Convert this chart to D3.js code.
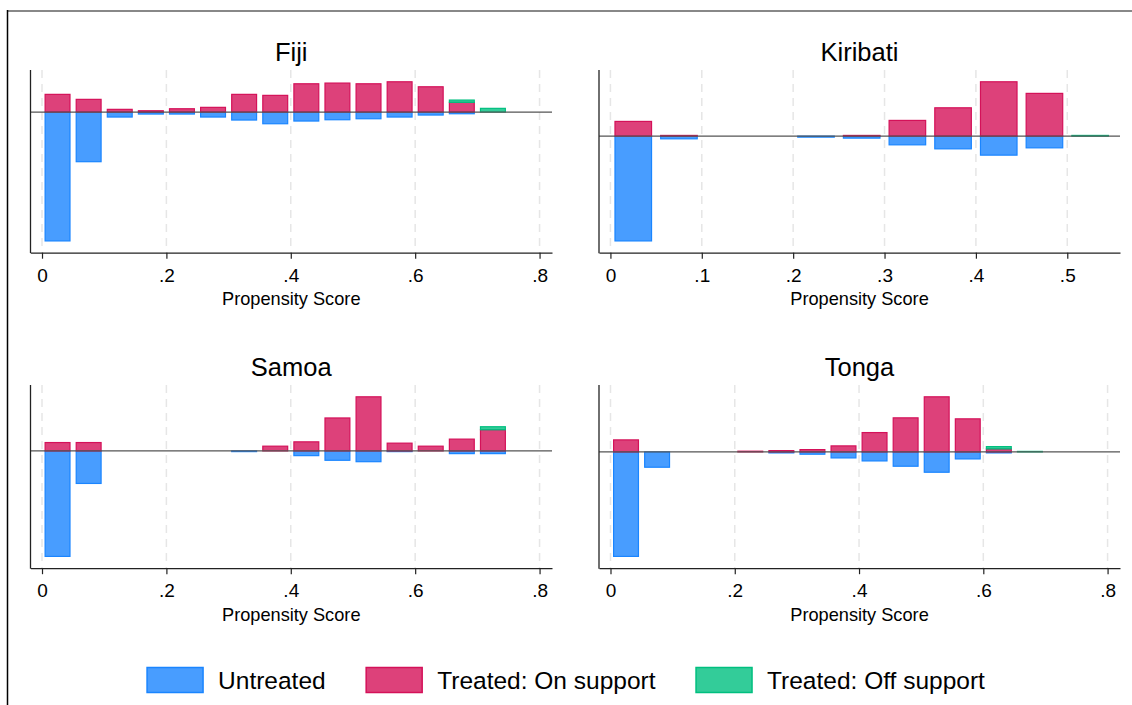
<!DOCTYPE html>
<html>
<head>
<meta charset="utf-8">
<script src="https://cdn.jsdelivr.net/npm/d3@7"></script>
<style>
  html, body { margin: 0; padding: 0; background: #fff; }
  svg { display: block; font-family: "Liberation Sans", Arial, sans-serif; }
</style>
</head>
<body>
<svg id="chart" width="1132" height="705"></svg>
<script>
// ---- Data (bin index k -> propensity-score bin [0.005+0.05k, 0.045+0.05k]) ----
const binStart = 0.005;
const binStep = 0.05;
const binWidth = 0.04;

const seriesNames = ["Untreated", "Treated: On support", "Treated: Off support"];
const panelNames = ["Fiji", "Kiribati", "Samoa", "Tonga"];

// Relative densities (untreated drawn below zero)
const fijiUntreated  = [129, 49.7, 5, 2, 2, 5, 8, 11.7, 9, 7.7, 6.7, 5, 3, 1.7, 0];
const fijiOnSupport  = [17.7, 12.7, 2.7, 1.3, 3.3, 4.7, 17.7, 16.7, 28.3, 29, 28.3, 30.3, 25.3, 9.7, 0];
const fijiOffSupport = [0, 0, 0, 0, 0, 0, 0, 0, 0, 0, 0, 0, 0, 2.3, 3.7];

const kiribatiUntreated  = [104.7, 2.7, 0, 0, 1, 2, 8.7, 12.7, 19, 11.7, 0];
const kiribatiOnSupport  = [14.7, 0.7, 0, 0, 0, 0.7, 15.7, 28.3, 54.3, 42.7, 0];
const kiribatiOffSupport = [0, 0, 0, 0, 0, 0, 0, 0, 0, 0, 0.7];

const samoaUntreated  = [104.7, 32.3, 0, 0, 0, 0, 0.7, 0, 4.7, 9.3, 10.7, 0.7, 0, 2.7, 2.7];
const samoaOnSupport  = [8.3, 8.3, 0, 0, 0, 0, 0, 4.7, 9, 32.7, 53.7, 7.7, 4.7, 11.7, 21];
const samoaOffSupport = [0, 0, 0, 0, 0, 0, 0, 0, 0, 0, 0, 0, 0, 0, 3];

const tongaUntreated  = [104.3, 15.3, 0, 0, 0, 1, 2.3, 6, 9, 14.3, 20.3, 7, 1, 0];
const tongaOnSupport  = [12, 0, 0, 0, 0.7, 1.3, 2.3, 6, 19.3, 34, 55, 33, 3, 0];
const tongaOffSupport = [0, 0, 0, 0, 0, 0, 0, 0, 0, 0, 0, 0, 2.3, 0.5];

const wideTicks = [0, 0.2, 0.4, 0.6, 0.8];
const kiribatiTicks = [0, 0.1, 0.2, 0.3, 0.4, 0.5];
const wideDomain = [-0.0185, 0.82];
const kiribatiDomain = [-0.0125, 0.5577];

const xAxisTitle = "Propensity Score";

// ---- Styles ----
const colors = {
  untreated: "#1a85ff",
  on: "#d41159",
  off: "#00bf7f"
};
const fillOpacity = 0.8;

const panels = [
  { name: panelNames[0], u: fijiUntreated, on: fijiOnSupport, off: fijiOffSupport, ticks: wideTicks, domain: wideDomain, col: 0, row: 0 },
  { name: panelNames[1], u: kiribatiUntreated, on: kiribatiOnSupport, off: kiribatiOffSupport, ticks: kiribatiTicks, domain: kiribatiDomain, col: 1, row: 0 },
  { name: panelNames[2], u: samoaUntreated, on: samoaOnSupport, off: samoaOffSupport, ticks: wideTicks, domain: wideDomain, col: 0, row: 1 },
  { name: panelNames[3], u: tongaUntreated, on: tongaOnSupport, off: tongaOffSupport, ticks: wideTicks, domain: wideDomain, col: 1, row: 1 }
];

const colRanges = [[30.5, 552], [599, 1120]];
const rowRanges = [[70, 252.7], [385, 568.2]];

const svg = d3.select("#chart");

// outer frame fragments
svg.append("line").attr("x1", 7).attr("x2", 1132).attr("y1", 11).attr("y2", 11)
  .attr("stroke", "#888").attr("stroke-width", 2);
svg.append("line").attr("x1", 7.5).attr("x2", 7.5).attr("y1", 10).attr("y2", 705)
  .attr("stroke", "#000").attr("stroke-width", 1.5);

const fmt = d => d === 0 ? "0" : d3.format(".1f")(d).replace(/^0/, "");

panels.forEach(p => {
  const [x0, x1] = colRanges[p.col];
  const [yTop, yBot] = rowRanges[p.row];
  const x = d3.scaleLinear().domain(p.domain).range([x0, x1]);

  const maxUp = d3.max(p.on.map((v, i) => v + (p.off[i] || 0)));
  const minDown = -d3.max(p.u);
  const pad = 0.074 * (maxUp - minDown);
  const y = d3.scaleLinear().domain([minDown - pad, maxUp + pad]).range([yBot, yTop]);

  const g = svg.append("g");

  // gridlines
  g.selectAll(".grid").data(p.ticks).enter().append("line")
    .attr("x1", d => x(d)).attr("x2", d => x(d))
    .attr("y1", yTop).attr("y2", yBot)
    .attr("stroke", "#e6e6e6").attr("stroke-width", 1.5)
    .attr("stroke-dasharray", "8,6");

  const bins = d3.range(p.on.length).map(k => ({
    k,
    left: binStart + binStep * k,
    u: p.u[k] || 0,
    on: p.on[k] || 0,
    off: p.off[k] || 0
  }));
  const bw = x(binWidth) - x(0);

  // untreated (below zero)
  g.selectAll(".u").data(bins.filter(b => b.u > 0)).enter().append("rect")
    .attr("x", b => x(b.left)).attr("width", bw)
    .attr("y", y(0)).attr("height", b => y(-b.u) - y(0))
    .attr("fill", colors.untreated).attr("fill-opacity", fillOpacity)
    .attr("stroke", colors.untreated).attr("stroke-width", 1.2);

  // treated on support
  g.selectAll(".on").data(bins.filter(b => b.on > 0)).enter().append("rect")
    .attr("x", b => x(b.left)).attr("width", bw)
    .attr("y", b => y(b.on)).attr("height", b => y(0) - y(b.on))
    .attr("fill", colors.on).attr("fill-opacity", fillOpacity)
    .attr("stroke", colors.on).attr("stroke-width", 1.2);

  // treated off support (stacked above on support)
  g.selectAll(".off").data(bins.filter(b => b.off > 0)).enter().append("rect")
    .attr("x", b => x(b.left)).attr("width", bw)
    .attr("y", b => y(b.on + b.off)).attr("height", b => y(b.on) - y(b.on + b.off))
    .attr("fill", colors.off).attr("fill-opacity", fillOpacity)
    .attr("stroke", colors.off).attr("stroke-width", 1.2);

  // zero line
  g.append("line").attr("x1", x0).attr("x2", x1)
    .attr("y1", y(0)).attr("y2", y(0))
    .attr("stroke", "#555").attr("stroke-width", 1.3);

  // y axis line
  g.append("line").attr("x1", x0).attr("x2", x0).attr("y1", yTop).attr("y2", yBot + 0.5)
    .attr("stroke", "#222").attr("stroke-width", 1.3);

  // x axis
  const ax = g.append("g").attr("transform", `translate(0,${yBot})`)
    .call(d3.axisBottom(x).tickValues(p.ticks).tickFormat(fmt).tickSize(6).tickSizeOuter(0));
  ax.select(".domain").attr("stroke", "#222").attr("stroke-width", 1.3);
  ax.selectAll(".tick line").attr("stroke", "#222").attr("stroke-width", 1.2);
  ax.selectAll(".tick text").attr("font-size", 19).attr("fill", "#000")
    .attr("font-family", "'Liberation Sans', Arial, sans-serif")
    .attr("dy", null).attr("y", 29);

  // axis title
  g.append("text").attr("x", (x0 + x1) / 2).attr("y", yBot + 52.3)
    .attr("text-anchor", "middle").attr("font-size", 18.2).attr("fill", "#000")
    .text(xAxisTitle);

  // panel title
  g.append("text").attr("x", (x0 + x1) / 2).attr("y", yTop - 9)
    .attr("text-anchor", "middle").attr("font-size", 25.5).attr("fill", "#000")
    .text(p.name);
});

// ---- Legend ----
const legendKeys = [colors.untreated, colors.on, colors.off];
const lg = svg.append("g");
const items = seriesNames.map((name, i) => {
  const it = lg.append("g");
  it.append("rect").attr("x", 0).attr("y", 0).attr("width", 56).attr("height", 25)
    .attr("fill", legendKeys[i]).attr("fill-opacity", fillOpacity)
    .attr("stroke", legendKeys[i]).attr("stroke-width", 1.5);
  const t = it.append("text").attr("x", 71).attr("y", 21.1)
    .attr("font-size", 24.5).attr("fill", "#000").text(name);
  return { it, w: 71 + t.node().getComputedTextLength() };
});
const gap = 40.5;
const total = d3.sum(items, d => d.w) + gap * (items.length - 1);
let cx = 566 - total / 2;
items.forEach(d => {
  d.it.attr("transform", `translate(${cx},667.5)`);
  cx += d.w + gap;
});
</script>
</body>
</html>
